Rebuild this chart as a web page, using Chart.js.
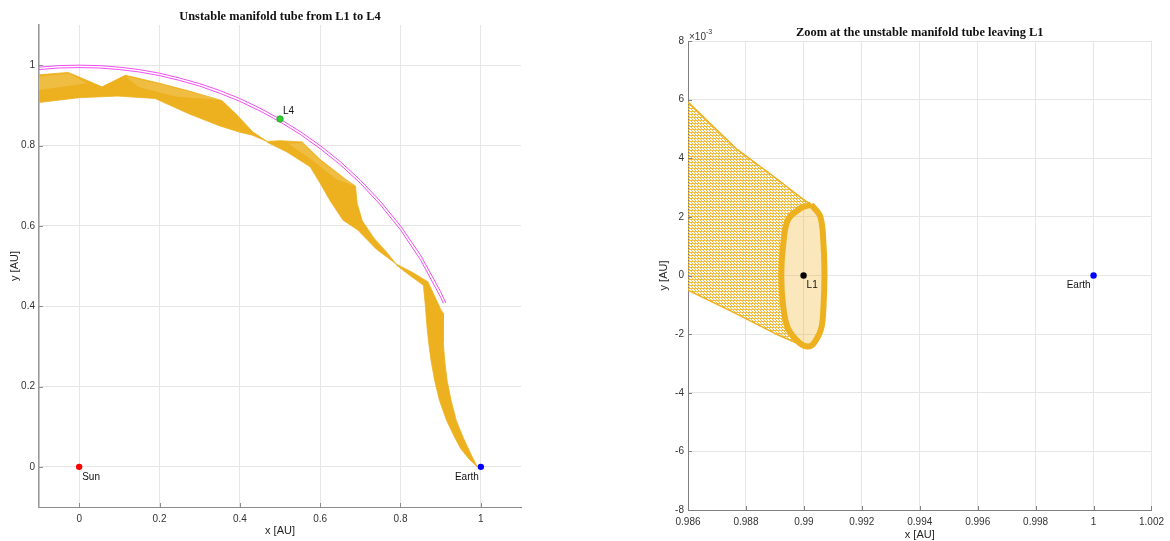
<!DOCTYPE html>
<html>
<head>
<meta charset="utf-8">
<script src="https://cdn.jsdelivr.net/npm/chart.js@4.4.1/dist/chart.umd.min.js"></script>
<style>
  html, body { margin: 0; padding: 0; background: #fff; }
  body { width: 1170px; height: 541px; position: relative; overflow: hidden; }
  .panel { position: absolute; top: 0; }
  #left { left: 0; }
  #right { left: 600px; }
</style>
</head>
<body>
<div class="panel" id="left"><canvas id="tubeChart" width="560" height="541"></canvas></div>
<div class="panel" id="right"><canvas id="zoomChart" width="570" height="541"></canvas></div>
<script>
// ---- left panel: whole tube, x/y in AU ----
const tubeXTicks = [0, 0.2, 0.4, 0.6, 0.8, 1];
const tubeXLabels = ['0', '0.2', '0.4', '0.6', '0.8', '1'];
const tubeYTicks = [0, 0.2, 0.4, 0.6, 0.8, 1];
const tubeYLabels = ['0', '0.2', '0.4', '0.6', '0.8', '1'];

// L4 orbit (two close passes)
const orbitOuterX = [-0.1, -0.05, 0, 0.05, 0.1, 0.15, 0.2, 0.25, 0.3, 0.35, 0.4, 0.45, 0.5, 0.55, 0.6, 0.65, 0.7, 0.75, 0.8, 0.85, 0.9, 0.913];
const orbitOuterY = [0.995, 0.999, 1.0, 0.999, 0.995, 0.989, 0.980, 0.968, 0.954, 0.937, 0.917, 0.893, 0.866, 0.835, 0.800, 0.760, 0.714, 0.661, 0.600, 0.527, 0.436, 0.408];
const orbitInnerX = [-0.1, -0.05, 0, 0.05, 0.1, 0.15, 0.2, 0.25, 0.3, 0.35, 0.4, 0.45, 0.5, 0.55, 0.6, 0.65, 0.7, 0.75, 0.8, 0.85, 0.9, 0.907];
const orbitInnerY = [0.989, 0.993, 0.994, 0.993, 0.989, 0.983, 0.974, 0.962, 0.948, 0.930, 0.910, 0.886, 0.859, 0.828, 0.792, 0.752, 0.706, 0.652, 0.590, 0.515, 0.422, 0.407];

// tube outline, split at the two pinch points
const tubeAX = [-0.1, -0.027, 0.057, 0.115, 0.2, 0.272, 0.355, 0.392, 0.432, 0.468, 0.43, 0.4, 0.349, 0.273, 0.2, 0.189, 0.096, 0, -0.1];
const tubeAY = [0.976, 0.982, 0.946, 0.975, 0.955, 0.936, 0.912, 0.877, 0.834, 0.810, 0.826, 0.833, 0.849, 0.879, 0.912, 0.917, 0.923, 0.919, 0.907];
const tubeBX = [0.468, 0.5, 0.555, 0.6, 0.666, 0.688, 0.692, 0.705, 0.735, 0.765, 0.789, 0.74, 0.693, 0.657, 0.624, 0.6, 0.575, 0.517, 0.468];
const tubeBY = [0.810, 0.812, 0.809, 0.765, 0.714, 0.699, 0.656, 0.612, 0.568, 0.535, 0.505, 0.542, 0.59, 0.614, 0.664, 0.706, 0.747, 0.784, 0.808];
const tubeCX = [0.789, 0.83, 0.868, 0.885, 0.901, 0.907, 0.906, 0.907, 0.910, 0.916, 0.926, 0.939, 0.956, 0.976, 0.991,
                0.97, 0.95, 0.935, 0.915, 0.897, 0.885, 0.876, 0.870, 0.866, 0.862, 0.857, 0.82, 0.789];
const tubeCY = [0.505, 0.484, 0.461, 0.425, 0.390, 0.382, 0.348, 0.31, 0.265, 0.215, 0.165, 0.115, 0.073, 0.03, 0.0,
                0.02, 0.045, 0.073, 0.115, 0.165, 0.215, 0.265, 0.31, 0.348, 0.40, 0.452, 0.479, 0.503];

// sparser, lighter strands inside the folds
const foldAX = [-0.1, -0.027, 0.02, -0.1];
const foldAY = [0.971, 0.979, 0.955, 0.938];
const foldBX = [0.115, 0.2, 0.352, 0.24, 0.15];
const foldBY = [0.972, 0.953, 0.913, 0.922, 0.945];
const foldCX = [0.52, 0.555, 0.6, 0.686, 0.64, 0.58];
const foldCY = [0.805, 0.806, 0.762, 0.699, 0.716, 0.764];

const sun = { x: 0, y: 0 };
const earth = { x: 1, y: 0 };
const l4 = { x: 0.5, y: 0.866 };

// ---- right panel: departure from L1, y in units of 1e-3 AU ----
const zoomXTicks = [0.986, 0.988, 0.99, 0.992, 0.994, 0.996, 0.998, 1, 1.002];
const zoomXLabels = ['0.986', '0.988', '0.99', '0.992', '0.994', '0.996', '0.998', '1', '1.002'];
const zoomYTicks = [-8, -6, -4, -2, 0, 2, 4, 6, 8];
const zoomYLabels = ['-8', '-6', '-4', '-2', '0', '2', '4', '6', '8'];

const fanTopX = [0.986, 0.98766, 0.98913, 0.98993, 0.99025];
const fanTopY = [5.92, 4.33, 3.25, 2.63, 2.42];
const fanBottomX = [0.986, 0.98766, 0.98913, 0.98993, 0.99015];
const fanBottomY = [-0.50, -1.30, -2.04, -2.38, -2.42];

// periodic orbit around L1, clockwise from the top
const ringX = [0.99025, 0.99057, 0.99068, 0.99071, 0.99068, 0.99060, 0.99035, 0.99015, 0.98985, 0.98945, 0.98928, 0.98922, 0.98928, 0.98945, 0.98990, 0.99025];
const ringY = [2.42, 2.0, 1.0, 0.0, -1.0, -1.8, -2.3, -2.42, -2.3, -1.8, -1.0, 0.0, 1.0, 1.9, 2.3, 2.42];

const l1 = { x: 0.98999, y: 0 };
const earthZoom = { x: 1, y: 0 };

const GOLD = '#EDB120';
const GRID = '#e6e6e6';
const TICK_FONT = { family: '"Liberation Sans", Arial, sans-serif', size: 10 };

const pts = (xs, ys) => xs.map((x, i) => ({ x, y: ys[i] }));

// fine cross-hatch standing in for the bundle of individual trajectories
function meshPattern() {
  const tile = document.createElement('canvas');
  tile.width = 3; tile.height = 3;
  const t = tile.getContext('2d');
  t.fillStyle = 'rgba(237,177,32,0.85)';
  t.fillRect(0, 0, 3, 1);
  t.fillRect(1, 1, 1, 1);
  t.fillRect(2, 2, 1, 1);
  return t.createPattern(tile, 'repeat');
}

function shape(data, fillColor, order, lineColor, lineWidth) {
  return {
    data, showLine: true, fill: 'shape', backgroundColor: fillColor,
    borderColor: lineColor || fillColor, borderWidth: lineWidth === undefined ? 0.8 : lineWidth,
    pointRadius: 0, clip: 0, order
  };
}

function curve(data, color, width, order) {
  return { data, showLine: true, fill: false, borderColor: color, borderWidth: width, pointRadius: 0, clip: 0, order };
}

function marker(p, color, edge) {
  return {
    data: [p], showLine: false, pointRadius: 3.2, pointBackgroundColor: color,
    pointBorderColor: edge || color, pointBorderWidth: edge ? 0.8 : 0, order: 0
  };
}

// titles, axis labels, point names and inward tick marks
const annotate = {
  id: 'annotate',
  afterDraw(chart, args, o) {
    const { ctx, chartArea: a, scales: { x, y } } = chart;
    ctx.save();
    ctx.strokeStyle = o.tickColor;
    ctx.lineWidth = 1;
    x.ticks.forEach(t => {
      const px = Math.round(x.getPixelForValue(t.value)) + 0.5;
      ctx.beginPath(); ctx.moveTo(px, a.bottom); ctx.lineTo(px, a.bottom - 4); ctx.stroke();
    });
    y.ticks.forEach(t => {
      const py = Math.round(y.getPixelForValue(t.value)) + 0.5;
      ctx.beginPath(); ctx.moveTo(a.left, py); ctx.lineTo(a.left + 4, py); ctx.stroke();
    });

    const cx = (a.left + a.right) / 2;
    ctx.textBaseline = 'middle';
    ctx.textAlign = 'center';
    ctx.fillStyle = '#111';
    ctx.font = 'bold 12.4px "Liberation Serif", "Times New Roman", serif';
    ctx.fillText(o.title, cx, a.top - 8);

    ctx.fillStyle = '#262626';
    ctx.font = '11px "Liberation Sans", Arial, sans-serif';
    ctx.fillText(o.xLabel, cx, a.bottom + o.xLabelGap);
    ctx.save();
    ctx.translate(a.left - 24, (a.top + a.bottom) / 2);
    ctx.rotate(-Math.PI / 2);
    ctx.fillText(o.yLabel, 0, 0);
    ctx.restore();

    ctx.fillStyle = '#111';
    ctx.font = '10px "Liberation Sans", Arial, sans-serif';
    o.names.forEach(n => {
      ctx.textAlign = n.align;
      ctx.fillText(n.text, x.getPixelForValue(n.at.x) + n.dx, y.getPixelForValue(n.at.y) + n.dy);
    });

    if (o.exponent) {
      ctx.fillStyle = '#333';
      ctx.textAlign = 'left';
      ctx.font = '10px "Liberation Sans", Arial, sans-serif';
      ctx.fillText('\u00d710', a.left + 1, a.top - 4);
      const w = ctx.measureText('\u00d710').width;
      ctx.font = '7px "Liberation Sans", Arial, sans-serif';
      ctx.fillText(o.exponent, a.left + 1 + w, a.top - 9);
    }
    ctx.restore();
  }
};

function axis(min, max, ticks, labels, size, isX, pad, borderColor, borderWidth) {
  return {
    type: 'linear', min, max,
    afterBuildTicks: s => { s.ticks = ticks.map(v => ({ value: v })); },
    afterFit: s => { if (isX) s.height = size; else s.width = size; },
    ticks: {
      callback: (v, i) => labels[i], font: TICK_FONT, color: '#333',
      padding: pad, autoSkip: false, maxRotation: 0
    },
    grid: { color: GRID, lineWidth: 1, drawTicks: false },
    border: { color: borderColor, width: borderWidth }
  };
}

const FOLD = 'rgba(255,255,255,0.16)';

new Chart(document.getElementById('tubeChart'), {
  type: 'scatter',
  data: {
    datasets: [
      marker(sun, '#ff0000'),
      marker(earth, '#0000ff'),
      marker(l4, '#2fd12f', '#1c9c1c'),
      curve(pts(orbitOuterX, orbitOuterY), '#f04ff0', 1, 1),
      curve(pts(orbitInnerX, orbitInnerY), '#f04ff0', 1, 1),
      shape(pts(foldAX, foldAY), FOLD, 2, 'rgba(0,0,0,0)', 0.1),
      shape(pts(foldBX, foldBY), FOLD, 2, 'rgba(0,0,0,0)', 0.1),
      shape(pts(foldCX, foldCY), FOLD, 2, 'rgba(0,0,0,0)', 0.1),
      shape(pts(tubeAX, tubeAY), GOLD, 3),
      shape(pts(tubeBX, tubeBY), GOLD, 3),
      shape(pts(tubeCX, tubeCY), GOLD, 3)
    ]
  },
  options: {
    responsive: false,
    animation: false,
    layout: { padding: { left: 0, right: 39, top: 25, bottom: 0 }, autoPadding: false },
    plugins: {
      legend: { display: false },
      tooltip: { enabled: false },
      annotate: {
        title: 'Unstable manifold tube from L1 to L4',
        xLabel: 'x [AU]', yLabel: 'y [AU]', xLabelGap: 24, tickColor: '#8c8c8c',
        names: [
          { text: 'Sun', at: sun, dx: 3, dy: 10, align: 'left' },
          { text: 'Earth', at: earth, dx: -2, dy: 10, align: 'right' },
          { text: 'L4', at: l4, dx: 3, dy: -8, align: 'left' }
        ]
      }
    },
    scales: {
      x: axis(-0.1, 1.1, tubeXTicks, tubeXLabels, 34, true, 6, '#8c8c8c', 1),
      y: axis(-0.1, 1.1, tubeYTicks, tubeYLabels, 39, false, 4, '#9a9a9a', 1.6)
    }
  },
  plugins: [annotate]
});

// fan: top edge, left half of the orbit from top to bottom, bottom edge back to the frame
const fanOutline = pts(fanTopX, fanTopY)
  .concat(pts(ringX.slice(8, 15).reverse(), ringY.slice(8, 15).reverse()))
  .concat(pts(fanBottomX, fanBottomY).reverse());

new Chart(document.getElementById('zoomChart'), {
  type: 'scatter',
  data: {
    datasets: [
      marker(l1, '#000000'),
      marker(earthZoom, '#0000ff'),
      Object.assign(shape(pts(ringX, ringY), 'rgba(237,177,32,0.3)', 1, GOLD, 6), { tension: 0.35 }),
      curve(pts(fanTopX, fanTopY), GOLD, 1.5, 2),
      curve(pts(fanBottomX, fanBottomY), GOLD, 1.5, 2),
      shape(fanOutline, meshPattern(), 3, 'rgba(0,0,0,0)', 0.1)
    ]
  },
  options: {
    responsive: false,
    animation: false,
    layout: { padding: { left: 0, right: 12, top: 41, bottom: 0 }, autoPadding: false },
    plugins: {
      legend: { display: false },
      tooltip: { enabled: false },
      annotate: {
        title: 'Zoom at the unstable manifold tube leaving L1',
        xLabel: 'x [AU]', yLabel: 'y [AU]', xLabelGap: 25, tickColor: '#7f7f7f',
        exponent: '-3',
        names: [
          { text: 'L1', at: l1, dx: 3, dy: 10, align: 'left' },
          { text: 'Earth', at: earthZoom, dx: -3, dy: 10, align: 'right' }
        ]
      }
    },
    scales: {
      x: axis(0.986, 1.002, zoomXTicks, zoomXLabels, 31, true, 6, '#7f7f7f', 1),
      y: axis(-8, 8, zoomYTicks, zoomYLabels, 88, false, 4, '#7f7f7f', 1)
    }
  },
  plugins: [annotate]
});
</script>
</body>
</html>
